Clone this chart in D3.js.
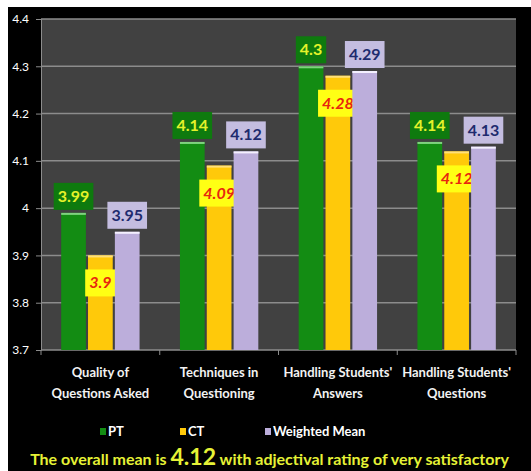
<!DOCTYPE html>
<html>
<head>
<meta charset="utf-8">
<script src="https://cdn.jsdelivr.net/npm/d3@7"></script>
<style>
  body { margin: 0; background: #fff; }
  text { font-family: Lato, "Open Sans", sans-serif; }
</style>
</head>
<body>
<div id="chart"></div>
<script>
// data
const categories = ["Quality of|Questions Asked", "Techniques in|Questioning", "Handling Students'|Answers", "Handling Students'|Questions"]
const seriesNames = ["PT", "CT", "Weighted Mean"]
const ptValues = [3.99, 4.14, 4.3, 4.14]
const ctValues = [3.9, 4.09, 4.28, 4.12]
const wmValues = [3.95, 4.12, 4.29, 4.13]
const yTicks = [3.7, 3.8, 3.9, 4, 4.1, 4.2, 4.3, 4.4]
const overallMean = 4.12

const W = 531, H = 471
const plot = { left: 41, right: 516, top: 19, bottom: 350 }

// colours per series: bar, top highlight, label box, label text
const styles = {
  "PT": { fill: "#138c13", hi: "#7fd27f", box: "#0e7a0e", txt: "#e4f22a", italic: false },
  "CT": { fill: "#ffc90a", hi: "#ffe07a", box: "#ffff14", txt: "#e8260e", italic: true },
  "Weighted Mean": { fill: "#bcaedb", hi: "#f4f0ff", box: "#c4bde0", txt: "#1e2b6e", italic: false }
}

const series = [ptValues, ctValues, wmValues]

const svg = d3.select('#chart').append('svg')
    .attr('width', W)
    .attr('height', H)

// black card with a white margin at top / left
svg.append('rect').attr('x', 8).attr('y', 7).attr('width', W - 8).attr('height', H - 7).attr('fill', '#000')

svg.append('rect')
    .attr('x', plot.left).attr('y', plot.top)
    .attr('width', plot.right - plot.left).attr('height', plot.bottom - plot.top)
    .attr('fill', '#414141')

const y = d3.scaleLinear().domain([3.7, 4.4]).range([plot.bottom, plot.top])

const x0 = d3.scaleBand().domain(categories)
    .range([plot.left, plot.right])
    .paddingInner(0.34).paddingOuter(0.17)

const x1 = d3.scaleBand().domain(seriesNames)
    .range([0, x0.bandwidth()])
    .paddingInner(0.08).paddingOuter(0)

// gridlines
svg.append('g').selectAll('line')
  .data(yTicks.slice(1))
  .join('line')
    .attr('x1', plot.left).attr('x2', plot.right)
    .attr('y1', d => y(d)).attr('y2', d => y(d))
    .attr('stroke', '#8c8c8c').attr('stroke-width', 1.5)

// y axis
const yAxis = svg.append('g')
    .attr('transform', `translate(${plot.left},0)`)
    .call(d3.axisLeft(y).tickValues(yTicks).tickFormat(d => d).tickSize(5).tickPadding(7))
yAxis.select('.domain').attr('stroke', '#8c8c8c')
yAxis.selectAll('line').attr('stroke', '#8c8c8c')
yAxis.selectAll('text').attr('fill', '#fff').style('font-size', '12px').style('font-family', 'Lato, sans-serif')

// x axis (ticks at the category boundaries)
const boundaries = d3.range(categories.length + 1).map(i => plot.left + i * (plot.right - plot.left) / categories.length)
svg.append('line')
    .attr('x1', plot.left).attr('x2', plot.right)
    .attr('y1', plot.bottom).attr('y2', plot.bottom)
    .attr('stroke', '#8c8c8c').attr('stroke-width', 1.5)
svg.append('g').selectAll('line')
  .data(boundaries)
  .join('line')
    .attr('x1', d => d).attr('x2', d => d)
    .attr('y1', plot.bottom).attr('y2', plot.bottom + 5)
    .attr('stroke', '#8c8c8c')

// category labels
categories.forEach(c => {
  const t = svg.append('text')
      .attr('x', x0(c) + x0.bandwidth() / 2)
      .attr('y', 377)
      .attr('text-anchor', 'middle')
      .attr('fill', '#f2f2f2')
      .style('font-size', '13px').style('font-weight', 700)
  c.split('|').forEach((line, i) => {
    t.append('tspan').attr('x', x0(c) + x0.bandwidth() / 2).attr('dy', i ? 21 : 0).text(line)
  })
})

// bars
const bars = []
categories.forEach((c, ci) => {
  seriesNames.forEach((s, si) => {
    bars.push({ cat: c, name: s, value: series[si][ci] })
  })
})

const groups = svg.append('g').selectAll('g')
  .data(bars)
  .join('g')
    .attr('transform', d => `translate(${x0(d.cat) + x1(d.name)},0)`)

groups.append('rect')
    .attr('y', d => y(d.value))
    .attr('width', x1.bandwidth())
    .attr('height', d => plot.bottom - y(d.value))
    .attr('fill', d => styles[d.name].fill)

groups.append('rect')
    .attr('y', d => y(d.value))
    .attr('width', x1.bandwidth())
    .attr('height', 2)
    .attr('fill', d => styles[d.name].hi)

// value labels in boxes
groups.each(function (d) {
  const g = d3.select(this)
  const st = styles[d.name]
  const cx = x1.bandwidth() / 2
  const boxH = 27
  // CT labels sit inside the bar, the others above it
  const boxTop = d.name === 'CT' ? y(d.value) + 14 : y(d.value) - 3 - boxH
  const rect = g.append('rect').attr('fill', st.box)
  const t = g.append('text')
      .attr('x', cx).attr('y', boxTop + boxH / 2 + 5.5)
      .attr('text-anchor', 'middle')
      .attr('fill', st.txt)
      .style('font-size', '16px').style('font-weight', 700)
      .style('font-style', st.italic ? 'italic' : 'normal')
      .text(d.value)
  const w = t.node().getComputedTextLength() + 8
  rect.attr('x', cx - w / 2).attr('y', boxTop).attr('width', w).attr('height', boxH)
})

// legend
const legendX = [100, 180, 265]
seriesNames.forEach((s, i) => {
  svg.append('rect')
      .attr('x', legendX[i]).attr('y', 428)
      .attr('width', 6).attr('height', 7)
      .attr('fill', styles[s].fill)
  svg.append('text')
      .attr('x', legendX[i] + 8).attr('y', 436)
      .attr('fill', '#fff')
      .style('font-size', '13px').style('font-weight', 700)
      .text(s)
})

// footnote
const note = svg.append('text')
    .attr('x', W / 2 + 4).attr('y', 465)
    .attr('text-anchor', 'middle')
    .attr('fill', '#e6f236')
    .style('font-size', '16px').style('font-weight', 700)
note.append('tspan').text('The overall mean is ')
note.append('tspan').style('font-size', '23px').text(overallMean)
note.append('tspan').text('  with adjectival rating of very satisfactory')
</script>
</body>
</html>
